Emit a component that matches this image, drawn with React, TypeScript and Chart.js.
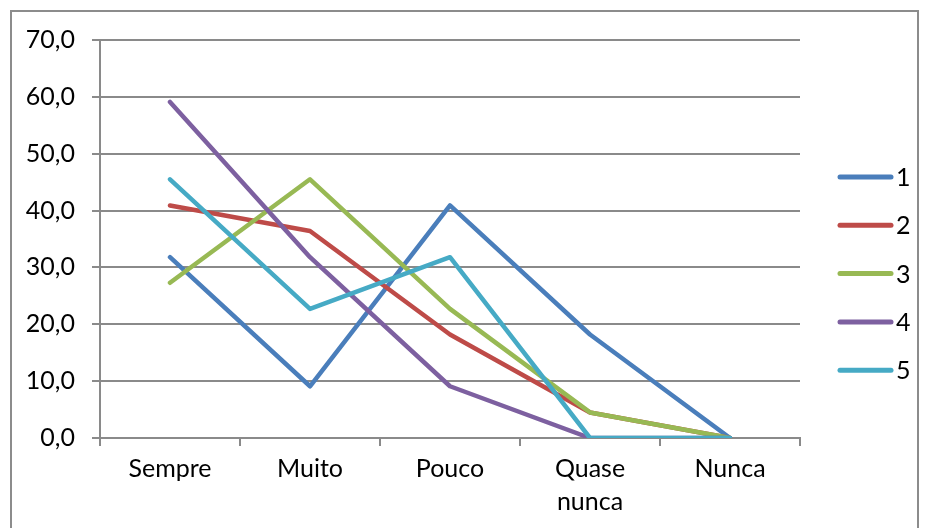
import React, { useEffect, useRef } from "react";
import { Chart, registerables } from "chart.js";

Chart.register(...registerables);

const categories: (string | string[])[] = ["Sempre", "Muito", "Pouco", ["Quase", "nunca"], "Nunca"];
const seriesNames = ["1", "2", "3", "4", "5"];
const series1 = [31.8, 9.1, 40.9, 18.2, 0];
const series2 = [40.9, 36.4, 18.2, 4.5, 0];
const series3 = [27.3, 45.5, 22.7, 4.5, 0];
const series4 = [59.1, 31.8, 9.1, 0, 0];
const series5 = [45.5, 22.7, 31.8, 0, 0];
const colors = ["#4A7EBB", "#BE4B48", "#98B954", "#7D60A0", "#46AAC5"];

const FONT = "Lato, 'Open Sans', sans-serif";
const GRID = "#8a8a8a";
const TEXT_SIZE = 25;

// Legend drawn on the right: a short line followed by the series name.
const sideLegend = {
  id: "sideLegend",
  afterDraw(chart: any) {
    const { ctx } = chart;
    ctx.save();
    chart.data.datasets.forEach((ds: any, i: number) => {
      const y = 177 + i * 48.3;
      ctx.strokeStyle = ds.borderColor;
      ctx.lineWidth = 5;
      ctx.lineCap = "round";
      ctx.beginPath();
      ctx.moveTo(840, y);
      ctx.lineTo(891, y);
      ctx.stroke();
      ctx.fillStyle = "#000";
      ctx.font = `${TEXT_SIZE}px ${FONT}`;
      ctx.textAlign = "left";
      ctx.textBaseline = "middle";
      ctx.fillText(ds.label, 896, y + 1);
    });
    ctx.restore();
  },
};

export default function App() {
  const ref = useRef<HTMLCanvasElement>(null);

  useEffect(() => {
    if (!ref.current) return;
    const all = [series1, series2, series3, series4, series5];
    const chart = new Chart(ref.current, {
      type: "line",
      data: {
        labels: categories,
        datasets: all.map((d, i) => ({
          label: seriesNames[i],
          data: d,
          order: all.length - i,
          borderColor: colors[i],
          backgroundColor: colors[i],
          borderWidth: 4.5,
          pointRadius: 0,
          tension: 0,
          borderJoinStyle: "round" as const,
          borderCapStyle: "round" as const,
        })),
      },
      options: {
        animation: false,
        responsive: false,
        devicePixelRatio: 1,
        layout: { padding: { top: 40, right: 126, left: 0, bottom: 0 } },
        plugins: { legend: { display: false }, tooltip: { enabled: false } },
        scales: {
          x: {
            offset: true,
            afterFit: (s: any) => { s.height = 90; },
            grid: {
              offset: true,
              drawOnChartArea: false,
              drawTicks: true,
              tickLength: 8,
              color: GRID,
              lineWidth: 2,
            },
            border: { display: true, color: GRID, width: 2 },
            ticks: {
              color: "#000",
              font: { family: FONT, size: TEXT_SIZE, lineHeight: 1.3 },
              padding: 7,
              maxRotation: 0,
              autoSkip: false,
            },
          },
          y: {
            min: 0,
            max: 70,
            afterFit: (s: any) => { s.width = 100; },
            grid: { color: GRID, lineWidth: 2, tickLength: 8 },
            border: { display: true, color: GRID, width: 2 },
            ticks: {
              stepSize: 10,
              color: "#000",
              font: { family: FONT, size: TEXT_SIZE },
              padding: 17,
              callback: (v: any) => Number(v).toFixed(1).replace(".", ","),
            },
          },
        },
      },
      plugins: [sideLegend],
    });
    return () => chart.destroy();
  }, []);

  return (
    <div style={{ position: "absolute", left: 0, top: 0, width: 926, height: 528, background: "#fff", overflow: "hidden" }}>
      <div
        style={{
          position: "absolute",
          left: 10,
          top: 10,
          width: 909,
          height: 540,
          border: "2px solid #8c8c8c",
          boxSizing: "border-box",
        }}
      />
      <canvas ref={ref} width={926} height={528} style={{ position: "absolute", left: 0, top: 0 }} />
    </div>
  );
}
